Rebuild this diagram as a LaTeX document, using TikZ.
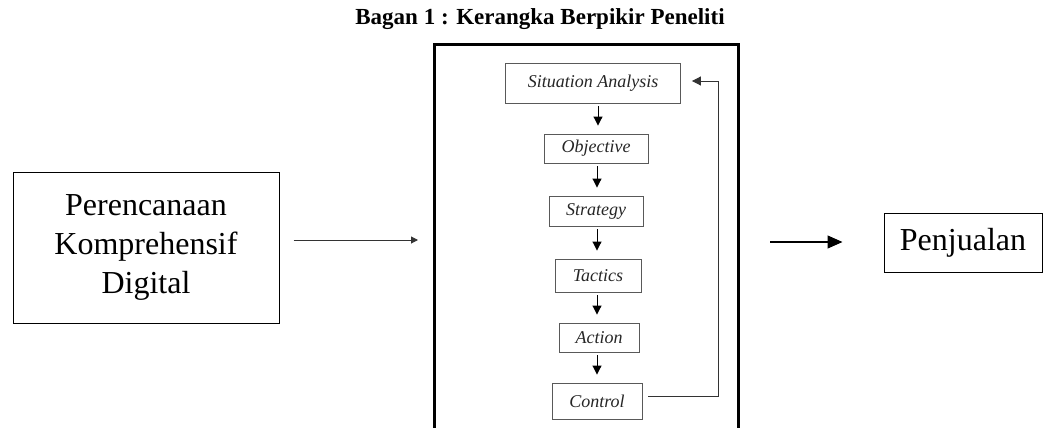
\documentclass[tikz,border=0pt]{standalone}
\usepackage{fontspec}
\setmainfont{Liberation Serif}
\usetikzlibrary{arrows.meta}
\begin{document}
\begin{tikzpicture}[x=1pt,y=-1pt,
  bigbox/.style={draw, line width=1pt, align=center, inner sep=0pt,
    font=\fontsize{32}{39}\selectfont},
  flowbox/.style={draw=black!65, line width=0.9pt, inner sep=0pt,
    font=\fontsize{18}{21}\selectfont\itshape, text=black!85},
  flowarrow/.style={-{Triangle[length=9pt,width=9pt]}, line width=1pt, shorten <=3pt, shorten >=8pt},
  frameline/.style={line width=3pt}]
\useasboundingbox (0,0) rectangle (1044,428);
\node[font=\fontsize{23}{27}\selectfont\bfseries] (title) at (540,19) {Bagan 1 : Kerangka Berpikir Peneliti};
% frame
\draw[frameline] (434,440) -- (434,45) -- (738,45) -- (738,440);
\coordinate (frameL) at (434,240);
\coordinate (frameR) at (738,242);
% left and right boxes
\node[bigbox, minimum width=266pt, minimum height=151pt] (plan) at (146,247.5) {Perencanaan\\Komprehensif\\Digital};
\node[bigbox, minimum width=158pt, minimum height=59pt] (sales) at (963,242.5) {Penjualan};
% flow boxes
\node[flowbox, minimum width=175pt, minimum height=40pt] (sa) at (593,83) {Situation Analysis};
\node[flowbox, minimum width=104pt, minimum height=29pt] (obj) at (596,148.5) {Objective};
\node[flowbox, minimum width=94pt, minimum height=30pt] (str) at (596,211) {Strategy};
\node[flowbox, minimum width=86pt, minimum height=33pt] (tac) at (598,275.5) {Tactics};
\node[flowbox, minimum width=80pt, minimum height=29pt] (act) at (599,337.5) {Action};
\node[flowbox, minimum width=90pt, minimum height=36pt] (ctl) at (597,401) {Control};
% vertical arrows
\draw[flowarrow] (sa.south -| 598,0) -- (obj.north -| 598,0);
\draw[flowarrow] (obj.south -| 597,0) -- (str.north -| 597,0);
\draw[flowarrow] (str.south -| 597,0) -- (tac.north -| 597,0);
\draw[flowarrow] (tac.south -| 597,0) -- (act.north -| 597,0);
\draw[flowarrow] (act.south -| 597,0) -- (ctl.north -| 597,0);
% feedback
\draw[-{Triangle[length=9pt,width=9pt]}, line width=1pt, black!80, shorten <=6pt, shorten >=11pt]
  (ctl.east |- 0,396) -- (718,396) -- (718,81) -- (sa.east |- 0,81);
% main arrows
\draw[-{Triangle[length=7pt,width=7pt]}, line width=1pt, black!80, shorten <=14pt, shorten >=16pt] (plan.east |- frameL) -- (frameL);
\draw[-{Triangle[length=15pt,width=13pt]}, line width=1.2pt, shorten <=32pt, shorten >=41pt] (frameR) -- (sales.west |- frameR);
\end{tikzpicture}
\end{document}
